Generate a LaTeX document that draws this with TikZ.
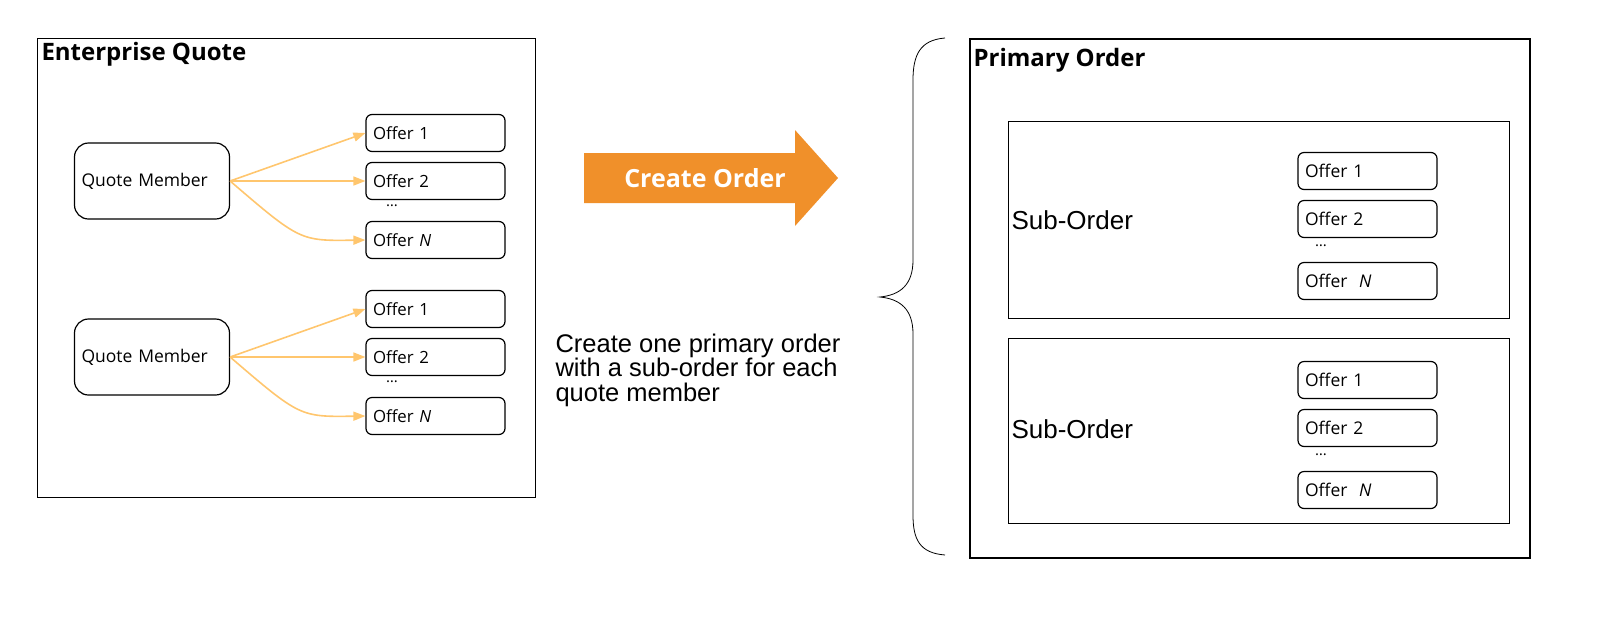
\documentclass[tikz,border=0pt]{standalone}
\usepackage{fontspec}
\setmainfont{Open Sans}
\newfontfamily\arialfont{Liberation Sans}
\usetikzlibrary{arrows.meta}
\definecolor{linkorange}{HTML}{FFC66E}
\definecolor{bigorange}{HTML}{F0902A}
\tikzset{
  offer/.style={draw, very thick, rounded corners=6pt, minimum width=139pt, minimum height=37pt, inner xsep=7pt, text width=125pt, align=left, font=\fontsize{16.8}{19}\selectfont},
  member/.style={draw, very thick, rounded corners=14pt, minimum width=155pt, minimum height=76pt, inner xsep=7pt, text width=141pt, align=left, font=\fontsize{17.5}{20}\selectfont},
  link/.style={linkorange, line width=1.6pt, -{Triangle[length=12pt,width=9pt]}},
  frame/.style={draw, very thick},
  dots/.style={font=\fontsize{15}{15}\selectfont},
}
\begin{document}
\begin{tikzpicture}[x=1pt,y=-1pt]
\useasboundingbox (0,0) rectangle (1624,619);
% left side
\node[frame, anchor=north west, minimum width=498pt, minimum height=459pt] (quote) at (37,38) {};
\node[anchor=west, font=\fontsize{24}{27}\selectfont\bfseries] (quotetitle) at (38,54) {Enterprise Quote};
\foreach \m/\y in {a/181, b/357} {
  \node[member] (qm\m) at (152,\y) {Quote Member};
  \node[offer] (o\m1) at (435.5,\y-48) {Offer 1};
  \node[offer] (o\m2) at (435.5,\y) {Offer 2};
  \node[dots] (d\m) at (392,\y+25) {\dots};
  \node[offer] (o\m3) at (435.5,\y+59) {Offer \textit{N}};
  \draw[link] (qm\m.east) -- (o\m1.west);
  \draw[link] (qm\m.east) -- (o\m2.west);
  \draw[link] (qm\m.east) .. controls (300,\y+60) .. (o\m3.west);
}
% big arrow
\draw[fill=bigorange, draw=none] (584,153) -- (795,153) -- (795,130) -- (838,178) -- (795,226) -- (795,203) -- (584,203) -- cycle;
\node[text=white, font=\fontsize{25}{27}\selectfont\bfseries] (create) at (705,178) {Create Order};
\node[anchor=north west, align=left, font=\arialfont\fontsize{25.5}{24.5}\selectfont] (caption) at (552,330) {Create one primary order\\with a sub-order for each\\quote member};
% brace
\draw[thick] (945,38) .. controls (920,40) and (913,55) .. (913,80) -- (913,260) .. controls (913,285) and (900,295) .. (880,297)
  .. controls (900,299) and (913,309) .. (913,334) -- (913,515) .. controls (913,540) and (920,553) .. (945,555);
% right side
\node[draw, line width=2pt, anchor=north west, minimum width=560pt, minimum height=519pt] (primary) at (969,38) {};
\node[anchor=west, font=\fontsize{24}{27}\selectfont\bfseries] (primarytitle) at (970,60) {Primary Order};
\foreach \s/\t/\h/\y in {a/121/197/171, b/338/185/380} {
  \node[frame, anchor=north west, minimum width=501pt, minimum height=\h pt] (sub\s) at (1008,\t) {};
  \node[anchor=west, font=\arialfont\fontsize{26}{28}\selectfont] (sublabel\s) at (1008,\y+49) {Sub-Order};
  \node[offer, font=\fontsize{17.5}{19}\selectfont] (p\s1) at (1367.5,\y) {Offer 1};
  \node[offer, font=\fontsize{17.5}{19}\selectfont] (p\s2) at (1367.5,\y+48) {Offer 2};
  \node[dots] (e\s) at (1321,\y+75) {\dots};
  \node[offer, font=\fontsize{17.5}{19}\selectfont] (p\s3) at (1367.5,\y+110) {Offer~ \textit{N}};
}
\end{tikzpicture}
\end{document}
